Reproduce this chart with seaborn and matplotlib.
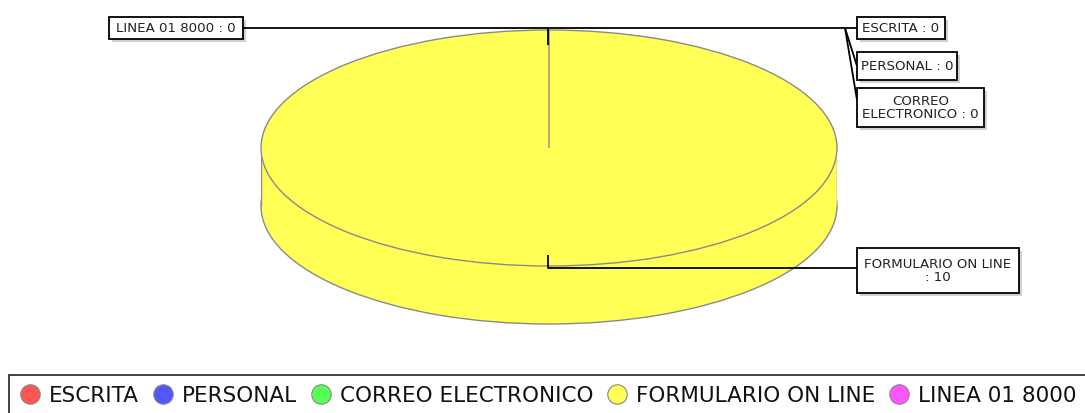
import matplotlib
matplotlib.use("Agg")
import matplotlib.pyplot as plt
from matplotlib.patches import Rectangle
from matplotlib.lines import Line2D
import seaborn as sns

categories = ["ESCRITA", "PERSONAL", "CORREO ELECTRONICO", "FORMULARIO ON LINE", "LINEA 01 8000"]
values = [0, 0, 0, 10, 0]
colors = ["#FF5555", "#5555FF", "#55FF55", "#FFFF55", "#FF55FF"]
label_texts = ["ESCRITA : 0", "PERSONAL : 0", "CORREO\nELECTRONICO : 0",
               "FORMULARIO ON LINE\n: 10", "LINEA 01 8000 : 0"]

sns.set_theme(style="white")
plt.rcParams["font.family"] = ["DejaVu Sans"]
palette = sns.color_palette(colors)

W, H = 1085, 413
fig = plt.figure(figsize=(W / 100, H / 100), dpi=100)
fig.patch.set_facecolor("white")

# ---- pie axes (ellipse bounding box in pixels) ----
left, right, top, bottom = 261, 837, 30, 324
ry_px = 118
depth = (bottom - top - 2 * ry_px) / ry_px
ax_pie = fig.add_axes([left / W, 1 - bottom / H, (right - left) / W, (bottom - top) / H])
edge = "#8a8a8a"
wp = dict(edgecolor=edge, linewidth=1.0)
# bottom (side) of the disc
w_bot, _ = ax_pie.pie(values, colors=palette, startangle=90, counterclock=False,
                      radius=1, center=(0, -depth), wedgeprops=wp)
for w in w_bot:
    w.set_zorder(1)
ax_pie.fill_between([-1, 1], [-depth, -depth], [0, 0], color=colors[3], lw=0, zorder=2)
ax_pie.plot([-1, -1], [-depth, 0], color=edge, lw=1.0, zorder=2.5)
ax_pie.plot([1, 1], [-depth, 0], color=edge, lw=1.0, zorder=2.5)
# top of the disc
w_top, _ = ax_pie.pie(values, colors=palette, startangle=90, counterclock=False,
                      radius=1, center=(0, 0), wedgeprops=wp)
for w in w_top:
    w.set_zorder(3)
ax_pie.set_aspect("auto")
ax_pie.set_xlim(-1, 1)
ax_pie.set_ylim(-1 - depth, 1)
ax_pie.axis("off")

# ---- overlay in pixel coordinates ----
ov = fig.add_axes([0, 0, 1, 1], zorder=5)
ov.set_xlim(0, W)
ov.set_ylim(H, 0)
ov.axis("off")
ov.patch.set_alpha(0)

lk = dict(color="black", lw=1.3, solid_capstyle="butt")
# top leader
ov.plot([243, 845], [28, 28], **lk)
ov.plot([548, 548], [28, 45], **lk)
ov.plot([845, 857], [28, 28], **lk)
ov.plot([845, 857], [28, 66], **lk)
ov.plot([845, 857], [28, 100], **lk)
# bottom leader
ov.plot([548, 548, 857], [255, 268, 268], **lk)

boxes = [  # x0, y0, x1, y1 for each category label
    (857, 17, 945, 39),
    (857, 52, 957, 80),
    (857, 88, 984, 127),
    (857, 248, 1019, 293),
    (109, 17, 243, 39),
]
for (x0, y0, x1, y1), txt in zip(boxes, label_texts):
    ov.add_patch(Rectangle((x0 + 3, y0 + 3), x1 - x0, y1 - y0, facecolor="#d0d0d0",
                           edgecolor="none", zorder=1))
    ov.add_patch(Rectangle((x0, y0), x1 - x0, y1 - y0, facecolor="white",
                           edgecolor="black", lw=1.3, zorder=2))
    ov.text((x0 + x1) / 2, (y0 + y1) / 2 + 0.5, txt, ha="center", va="center",
            fontsize=9.6, linespacing=1.05, color="#222222", zorder=3)

# ---- legend ----
handles = [Line2D([], [], ls="none", marker="o", markersize=14, markerfacecolor=c,
                  markeredgecolor="#888888", markeredgewidth=0.8) for c in palette]
leg = fig.legend(handles, categories, ncol=5, loc="center",
                 bbox_to_anchor=(548 / W, 1 - 396 / H), frameon=True, fancybox=False,
                 fontsize=15.5, handletextpad=0.38, columnspacing=0.61,
                 handlelength=1.0, borderpad=0.5, borderaxespad=0)
leg.get_frame().set_edgecolor("black")
leg.get_frame().set_linewidth(1.3)
for t in leg.get_texts():
    t.set_color("#111111")

fig.savefig("out.png", dpi=100, facecolor="white")
